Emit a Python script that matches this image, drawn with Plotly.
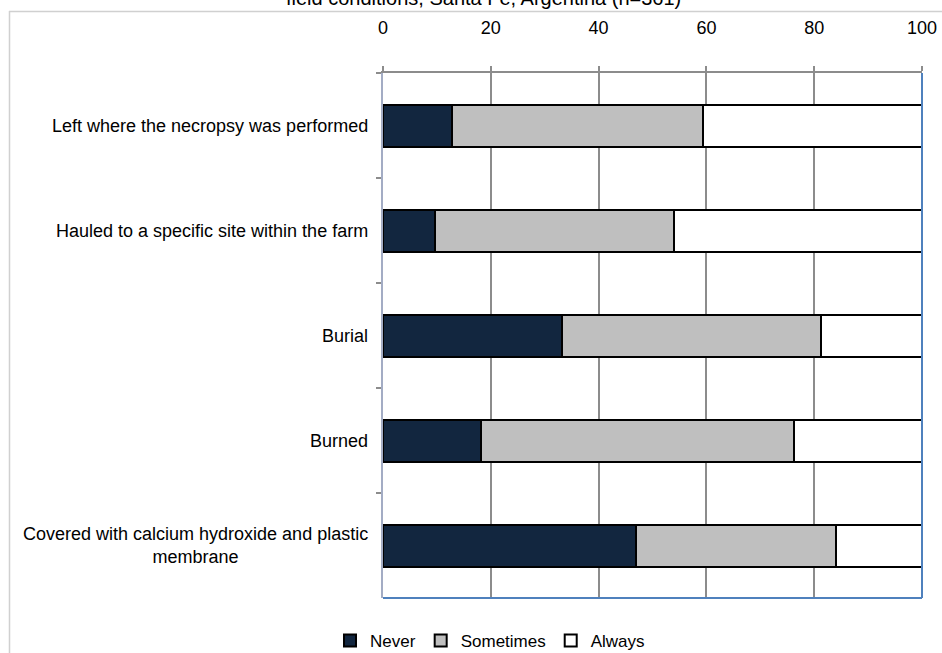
import plotly.graph_objects as go

categories = [
    "Left where the necropsy was performed",
    "Hauled to a specific site within the farm",
    "Burial",
    "Burned",
    "Covered with calcium hydroxide and plastic<br>membrane",
]
never = [12.8, 9.7, 33.2, 18.1, 46.9]
sometimes = [46.6, 44.2, 48.0, 58.2, 37.2]
always = [40.6, 46.1, 18.8, 23.7, 15.9]
x_ticks = [0, 20, 40, 60, 80, 100]
title_text = "field conditions, Santa Fe, Argentina (n=361)"

W, H = 942, 653
L, R, T, B = 383, 20, 73, 55
FONT = "Liberation Sans, Arial, sans-serif"

fig = go.Figure()
series = [("Never", never, "#12263F"), ("Sometimes", sometimes, "#BFBFBF"), ("Always", always, "#FFFFFF")]
for name, vals, col in series:
    fig.add_trace(go.Bar(
        y=categories, x=vals, name=name, orientation="h", width=0.4,
        marker=dict(color=col, line=dict(color="#000000", width=2)),
    ))

fig.update_layout(
    width=W, height=H, barmode="stack",
    margin=dict(l=L, r=R, t=T, b=B, autoexpand=False),
    paper_bgcolor="white", plot_bgcolor="white",
    font=dict(family=FONT, size=18, color="#000000"),
    showlegend=True,
    legend=dict(orientation="h", x=(490 - L) / (W - L - R), xanchor="center",
                y=(H - B - 641) / (H - T - B), yanchor="middle",
                font=dict(size=17), traceorder="normal", bgcolor="rgba(0,0,0,0)",
                itemwidth=30, tracegroupgap=0),
    xaxis=dict(side="top", range=[0, 100], tickvals=x_ticks, ticktext=[str(v) for v in x_ticks],
               showgrid=True, gridcolor="#8C8C8C", gridwidth=1.5, zeroline=False,
               showline=True, linecolor="#8C8C8C", linewidth=1.5,
               ticks="outside", ticklen=5, tickcolor="#8C8C8C", tickwidth=1.5,
               ticklabelstandoff=25, tickfont=dict(size=18)),
    yaxis=dict(autorange="reversed", showticklabels=False, showgrid=False, zeroline=False,
               showline=True, linecolor="#A3ACC4", linewidth=1.5,
               ticks="outside", ticklen=5, tickcolor="#8C8C8C", tickwidth=1.5,
               tickson="boundaries"),
)

# category labels (centered multi-line blocks, right aligned to the axis)
for c in categories:
    fig.add_annotation(x=0, xref="paper", y=c, yref="y", text=c, showarrow=False,
                       xanchor="right", yanchor="middle", align="center", xshift=-13,
                       font=dict(size=18, family=FONT))

# partially visible title
fig.add_annotation(x=(483 - L) / (W - L - R), xref="paper", y=(H - B + 2) / (H - T - B), yref="paper",
                   text=title_text, showarrow=False, xanchor="center", yanchor="middle",
                   font=dict(size=20, family=FONT))

# plot area border (right/bottom) and chart frame
fig.add_shape(type="line", xref="x domain", yref="y domain", x0=1, x1=1, y0=0, y1=1,
              line=dict(color="#4F81BD", width=2))
fig.add_shape(type="line", xref="x domain", yref="y domain", x0=0, x1=1, y0=0, y1=0,
              line=dict(color="#4F81BD", width=2))
px = lambda p: (p - L) / (W - L - R)
py = lambda p: (H - B - p) / (H - T - B)
fig.add_shape(type="line", xref="paper", yref="paper", x0=px(9), x1=px(960), y0=py(11.5), y1=py(11.5),
              line=dict(color="#D0D0D0", width=1.5))
fig.add_shape(type="line", xref="paper", yref="paper", x0=px(9.5), x1=px(9.5), y0=py(11), y1=py(680),
              line=dict(color="#D0D0D0", width=1.5))

fig.write_html("out.html")
